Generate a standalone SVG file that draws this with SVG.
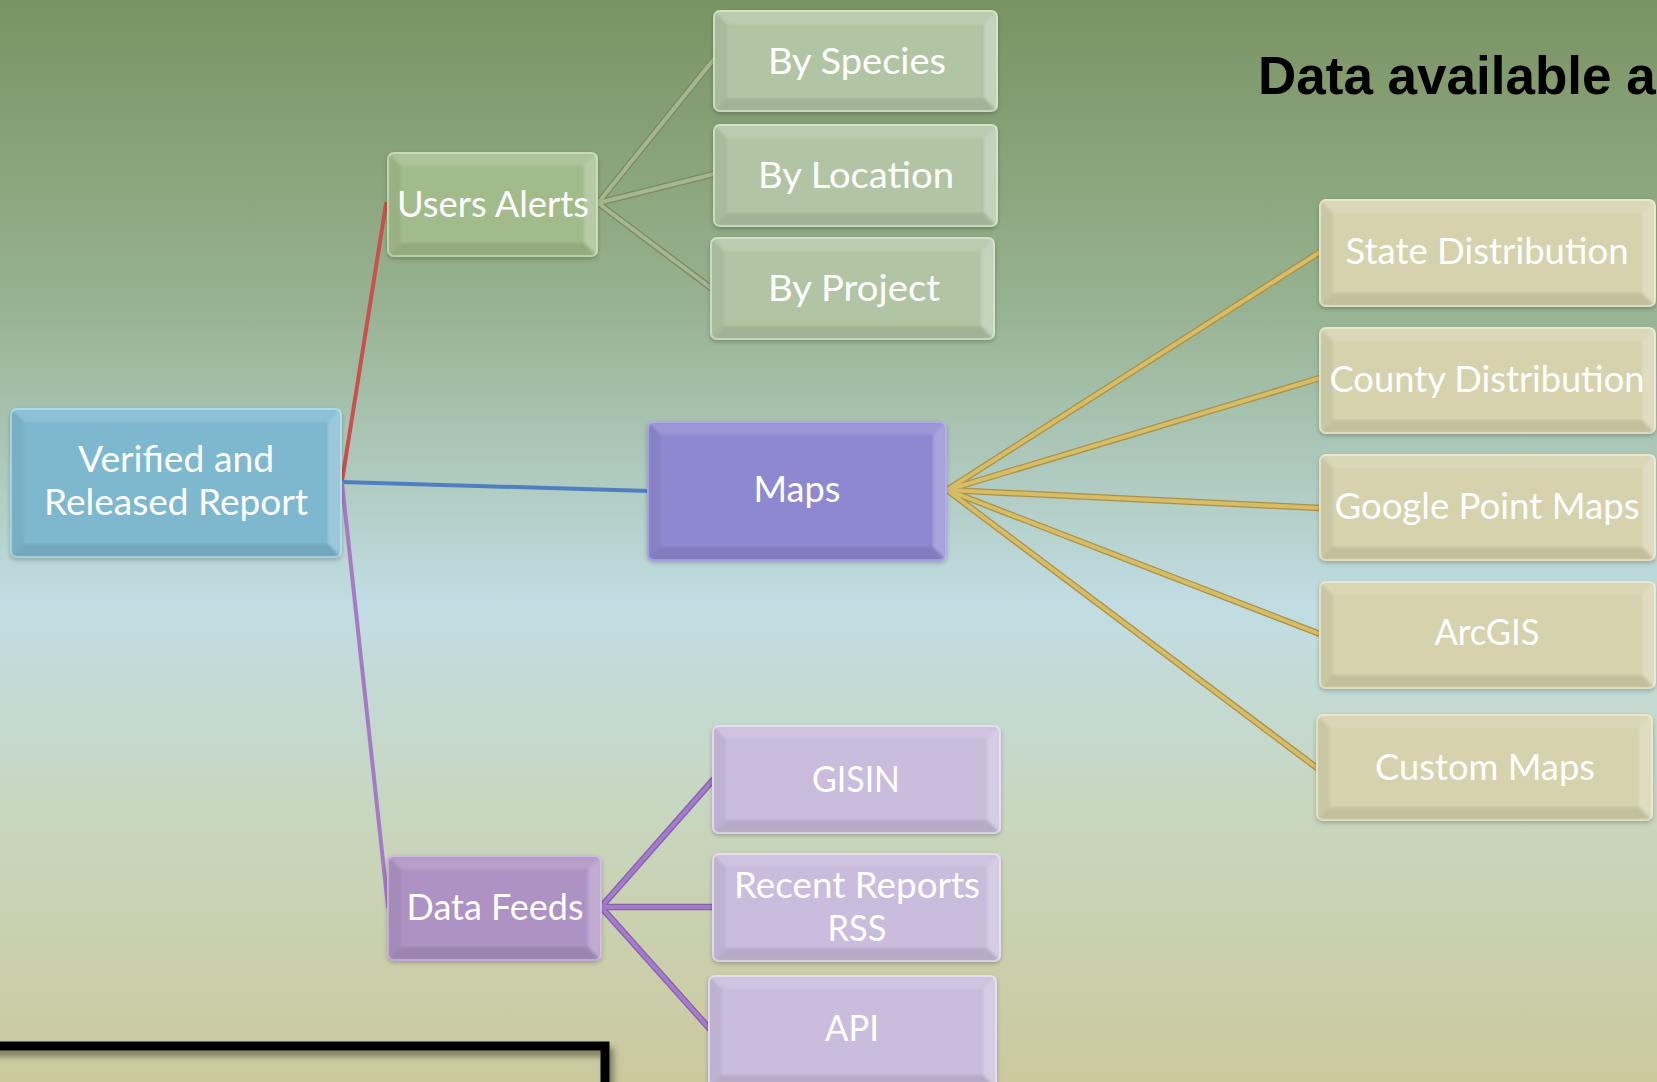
<svg xmlns="http://www.w3.org/2000/svg" width="1657" height="1082" viewBox="0 0 1657 1082">
  <defs>
    <linearGradient id="bg" x1="0" y1="0" x2="0" y2="1">
      <stop offset="0" stop-color="#7a9363"/>
      <stop offset="0.28" stop-color="#97b290"/>
      <stop offset="0.56" stop-color="#c1dde3"/>
      <stop offset="0.76" stop-color="#c8d6bd"/>
      <stop offset="1" stop-color="#ccc99d"/>
    </linearGradient>
    <filter id="soft" x="-10%" y="-10%" width="120%" height="125%">
      <feDropShadow dx="0" dy="2" stdDeviation="2" flood-color="#000" flood-opacity="0.22"/>
    </filter>
    <filter id="bevelBlur" x="-5%" y="-5%" width="110%" height="110%">
      <feGaussianBlur stdDeviation="1.6"/>
    </filter>
    <filter id="frameShadow" x="-5%" y="-50%" width="110%" height="200%">
      <feDropShadow dx="4" dy="6" stdDeviation="3" flood-color="#3a3a2a" flood-opacity="0.55"/>
    </filter>
  </defs>
  <style>
    .box { stroke-width: 2; filter: url(#soft); }
    .bt, .br, .bb, .bl { filter: url(#bevelBlur); }
    .bt { fill: #ffffff; fill-opacity: 0.12; }
    .br { fill: #ffffff; fill-opacity: 0.24; }
    .bb { fill: #000000; fill-opacity: 0.09; }
    .bl { fill: #000000; fill-opacity: 0.05; }
    .lbl { font-family: Lato, "Open Sans", "DejaVu Sans", sans-serif; font-size: 36px; fill: #ffffff; text-anchor: middle; }
    .root { fill: #7db8cf; stroke: #a6d8ea; }
    .alerts { fill: #a2bb8b; stroke: #c2d9ac; }
    .alertKid { fill: #b1c5a5; stroke: #cfe1c4; }
    .maps { fill: #8e88d0; stroke: #aaa4ec; }
    .mapKid { fill: #d5d2ad; stroke: #e9e7c8; }
    .feeds { fill: #ad92c3; stroke: #cbb3e2; }
    .feedKid { fill: #c9bcdc; stroke: #e3dbf1; }
    .edge { fill: none; stroke-linecap: round; }
    .o { stroke-width: 6.5; }
    .i { stroke-width: 4; }
    .title { font-family: "Liberation Sans", Arial, sans-serif; font-weight: bold; font-size: 53px; fill: #000000; }
  </style>

  <!-- background -->
  <rect x="0" y="0" width="1657" height="1082" fill="url(#bg)"/>

  <!-- heading -->
  <text class="title" x="1258" y="94">Data available a</text>

  <!-- connectors -->
  <g id="connectors" class="edge">
    <!-- root branches -->
    <line x1="342" y1="481" x2="386" y2="204" stroke="#c9504c" stroke-width="4"/>
    <line x1="342" y1="482" x2="649" y2="491" stroke="#4f7fc0" stroke-width="4"/>
    <line x1="342" y1="483" x2="388" y2="907" stroke="#a77ac6" stroke-width="4"/>
    <!-- alerts fan -->
    <g stroke="#7a8a66">
      <line class="o" x1="598" y1="203" x2="714" y2="59"/>
      <line class="o" x1="598" y1="203" x2="714" y2="174"/>
      <line class="o" x1="598" y1="203" x2="711" y2="288"/>
    </g>
    <g stroke="#a6b68e">
      <line class="i" x1="598" y1="203" x2="714" y2="59"/>
      <line class="i" x1="598" y1="203" x2="714" y2="174"/>
      <line class="i" x1="598" y1="203" x2="711" y2="288"/>
    </g>
    <!-- maps fan -->
    <g stroke="#a8924a">
      <line class="o" x1="947" y1="490" x2="1320" y2="252"/>
      <line class="o" x1="947" y1="490" x2="1320" y2="378"/>
      <line class="o" x1="947" y1="490" x2="1320" y2="508"/>
      <line class="o" x1="947" y1="490" x2="1320" y2="634"/>
      <line class="o" x1="947" y1="490" x2="1317" y2="768"/>
    </g>
    <g stroke="#d8bd66">
      <line class="i" x1="947" y1="490" x2="1320" y2="252"/>
      <line class="i" x1="947" y1="490" x2="1320" y2="378"/>
      <line class="i" x1="947" y1="490" x2="1320" y2="508"/>
      <line class="i" x1="947" y1="490" x2="1320" y2="634"/>
      <line class="i" x1="947" y1="490" x2="1317" y2="768"/>
    </g>
    <!-- data feeds fan -->
    <g stroke="#8662aa">
      <line class="o" x1="601" y1="907" x2="713" y2="780"/>
      <line class="o" x1="601" y1="907" x2="713" y2="907"/>
      <line class="o" x1="601" y1="907" x2="709" y2="1028"/>
    </g>
    <g stroke="#a57ccd">
      <line class="i" x1="601" y1="907" x2="713" y2="780"/>
      <line class="i" x1="601" y1="907" x2="713" y2="907"/>
      <line class="i" x1="601" y1="907" x2="709" y2="1028"/>
    </g>
  </g>

  <!-- root -->
  <g id="root">
    <rect class="box root" x="11" y="409" width="330" height="148" rx="6"/>
    <polygon class="bt" points="11,409 341,409 328,422 24,422"/>
    <polygon class="br" points="341,409 341,557 328,544 328,422"/>
    <polygon class="bb" points="11,557 341,557 328,544 24,544"/>
    <polygon class="bl" points="11,409 24,422 24,544 11,557"/>
    <text class="lbl" x="176" y="472" textLength="196" lengthAdjust="spacingAndGlyphs">Verified and</text>
    <text class="lbl" x="176" y="515" textLength="264" lengthAdjust="spacingAndGlyphs">Released Report</text>
  </g>

  <!-- users alerts branch -->
  <g id="users-alerts">
    <rect class="box alerts" x="388" y="153" width="209" height="103" rx="6"/>
    <polygon class="bt" points="388,153 597,153 584,166 401,166"/>
    <polygon class="br" points="597,153 597,256 584,243 584,166"/>
    <polygon class="bb" points="388,256 597,256 584,243 401,243"/>
    <polygon class="bl" points="388,153 401,166 401,243 388,256"/>
    <text class="lbl" x="493" y="217" textLength="192" lengthAdjust="spacingAndGlyphs">Users Alerts</text>
  </g>
  <g id="by-species">
    <rect class="box alertKid" x="714" y="11" width="283" height="100" rx="6"/>
    <polygon class="bt" points="714,11 997,11 984,24 727,24"/>
    <polygon class="br" points="997,11 997,111 984,98 984,24"/>
    <polygon class="bb" points="714,111 997,111 984,98 727,98"/>
    <polygon class="bl" points="714,11 727,24 727,98 714,111"/>
    <text class="lbl" x="857" y="74" textLength="178" lengthAdjust="spacingAndGlyphs">By Species</text>
  </g>
  <g id="by-location">
    <rect class="box alertKid" x="714" y="125" width="283" height="101" rx="6"/>
    <polygon class="bt" points="714,125 997,125 984,138 727,138"/>
    <polygon class="br" points="997,125 997,226 984,213 984,138"/>
    <polygon class="bb" points="714,226 997,226 984,213 727,213"/>
    <polygon class="bl" points="714,125 727,138 727,213 714,226"/>
    <text class="lbl" x="856" y="188" textLength="196" lengthAdjust="spacingAndGlyphs">By Location</text>
  </g>
  <g id="by-project">
    <rect class="box alertKid" x="711" y="238" width="283" height="101" rx="6"/>
    <polygon class="bt" points="711,238 994,238 981,251 724,251"/>
    <polygon class="br" points="994,238 994,339 981,326 981,251"/>
    <polygon class="bb" points="711,339 994,339 981,326 724,326"/>
    <polygon class="bl" points="711,238 724,251 724,326 711,339"/>
    <text class="lbl" x="854" y="301" textLength="172" lengthAdjust="spacingAndGlyphs">By Project</text>
  </g>

  <!-- maps branch -->
  <g id="maps">
    <rect class="box maps" x="648" y="422" width="298" height="138" rx="6"/>
    <polygon class="bt" points="648,422 946,422 933,435 661,435"/>
    <polygon class="br" points="946,422 946,560 933,547 933,435"/>
    <polygon class="bb" points="648,560 946,560 933,547 661,547"/>
    <polygon class="bl" points="648,422 661,435 661,547 648,560"/>
    <text class="lbl" x="797" y="502" textLength="87" lengthAdjust="spacingAndGlyphs">Maps</text>
  </g>
  <g id="state-distribution">
    <rect class="box mapKid" x="1320" y="200" width="335" height="106" rx="6"/>
    <polygon class="bt" points="1320,200 1655,200 1642,213 1333,213"/>
    <polygon class="br" points="1655,200 1655,306 1642,293 1642,213"/>
    <polygon class="bb" points="1320,306 1655,306 1642,293 1333,293"/>
    <polygon class="bl" points="1320,200 1333,213 1333,293 1320,306"/>
    <text class="lbl" x="1487" y="264" textLength="283" lengthAdjust="spacingAndGlyphs">State Distribution</text>
  </g>
  <g id="county-distribution">
    <rect class="box mapKid" x="1320" y="328" width="335" height="105" rx="6"/>
    <polygon class="bt" points="1320,328 1655,328 1642,341 1333,341"/>
    <polygon class="br" points="1655,328 1655,433 1642,420 1642,341"/>
    <polygon class="bb" points="1320,433 1655,433 1642,420 1333,420"/>
    <polygon class="bl" points="1320,328 1333,341 1333,420 1320,433"/>
    <text class="lbl" x="1487" y="392" textLength="315" lengthAdjust="spacingAndGlyphs">County Distribution</text>
  </g>
  <g id="google-point-maps">
    <rect class="box mapKid" x="1320" y="455" width="335" height="105" rx="6"/>
    <polygon class="bt" points="1320,455 1655,455 1642,468 1333,468"/>
    <polygon class="br" points="1655,455 1655,560 1642,547 1642,468"/>
    <polygon class="bb" points="1320,560 1655,560 1642,547 1333,547"/>
    <polygon class="bl" points="1320,455 1333,468 1333,547 1320,560"/>
    <text class="lbl" x="1487" y="519" textLength="305" lengthAdjust="spacingAndGlyphs">Google Point Maps</text>
  </g>
  <g id="arcgis">
    <rect class="box mapKid" x="1320" y="582" width="335" height="106" rx="6"/>
    <polygon class="bt" points="1320,582 1655,582 1642,595 1333,595"/>
    <polygon class="br" points="1655,582 1655,688 1642,675 1642,595"/>
    <polygon class="bb" points="1320,688 1655,688 1642,675 1333,675"/>
    <polygon class="bl" points="1320,582 1333,595 1333,675 1320,688"/>
    <text class="lbl" x="1487" y="645" textLength="105" lengthAdjust="spacingAndGlyphs">ArcGIS</text>
  </g>
  <g id="custom-maps">
    <rect class="box mapKid" x="1317" y="715" width="335" height="105" rx="6"/>
    <polygon class="bt" points="1317,715 1652,715 1639,728 1330,728"/>
    <polygon class="br" points="1652,715 1652,820 1639,807 1639,728"/>
    <polygon class="bb" points="1317,820 1652,820 1639,807 1330,807"/>
    <polygon class="bl" points="1317,715 1330,728 1330,807 1317,820"/>
    <text class="lbl" x="1485" y="780" textLength="220" lengthAdjust="spacingAndGlyphs">Custom Maps</text>
  </g>

  <!-- data feeds branch -->
  <g id="data-feeds">
    <rect class="box feeds" x="388" y="856" width="213" height="104" rx="6"/>
    <polygon class="bt" points="388,856 601,856 588,869 401,869"/>
    <polygon class="br" points="601,856 601,960 588,947 588,869"/>
    <polygon class="bb" points="388,960 601,960 588,947 401,947"/>
    <polygon class="bl" points="388,856 401,869 401,947 388,960"/>
    <text class="lbl" x="495" y="920" textLength="177" lengthAdjust="spacingAndGlyphs">Data Feeds</text>
  </g>
  <g id="gisin">
    <rect class="box feedKid" x="713" y="726" width="287" height="107" rx="6"/>
    <polygon class="bt" points="713,726 1000,726 987,739 726,739"/>
    <polygon class="br" points="1000,726 1000,833 987,820 987,739"/>
    <polygon class="bb" points="713,833 1000,833 987,820 726,820"/>
    <polygon class="bl" points="713,726 726,739 726,820 713,833"/>
    <text class="lbl" x="856" y="792" textLength="88" lengthAdjust="spacingAndGlyphs">GISIN</text>
  </g>
  <g id="recent-reports-rss">
    <rect class="box feedKid" x="713" y="854" width="287" height="107" rx="6"/>
    <polygon class="bt" points="713,854 1000,854 987,867 726,867"/>
    <polygon class="br" points="1000,854 1000,961 987,948 987,867"/>
    <polygon class="bb" points="713,961 1000,961 987,948 726,948"/>
    <polygon class="bl" points="713,854 726,867 726,948 713,961"/>
    <text class="lbl" x="857" y="898" textLength="246" lengthAdjust="spacingAndGlyphs">Recent Reports</text>
    <text class="lbl" x="857" y="941" textLength="59" lengthAdjust="spacingAndGlyphs">RSS</text>
  </g>
  <g id="api">
    <rect class="box feedKid" x="709" y="976" width="287" height="112" rx="6"/>
    <polygon class="bt" points="709,976 996,976 983,989 722,989"/>
    <polygon class="br" points="996,976 996,1088 983,1075 983,989"/>
    <polygon class="bb" points="709,1088 996,1088 983,1075 722,1075"/>
    <polygon class="bl" points="709,976 722,989 722,1075 709,1088"/>
    <text class="lbl" x="852" y="1041" textLength="54" lengthAdjust="spacingAndGlyphs">API</text>
  </g>

  <!-- black frame at the lower left -->
  <path d="M -10 1046 H 605 V 1100" fill="none" stroke="#000000" stroke-width="9" filter="url(#frameShadow)"/>
</svg>
